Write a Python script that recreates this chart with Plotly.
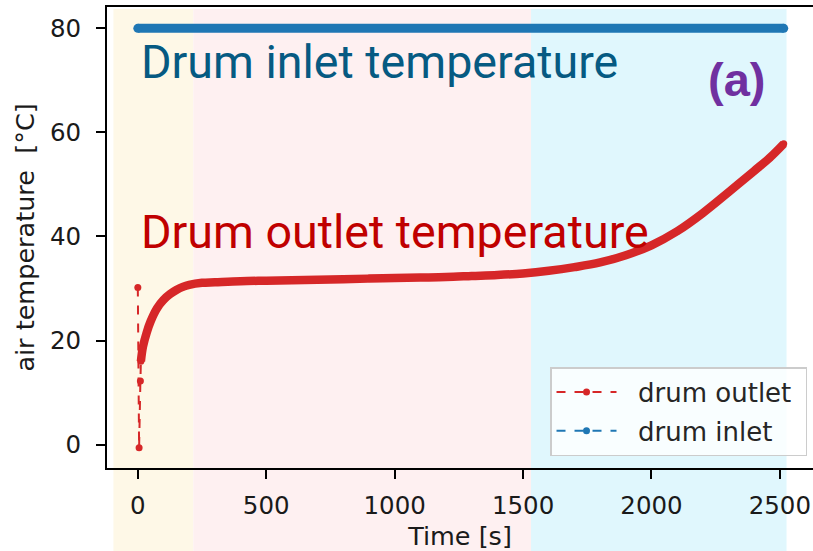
import plotly.graph_objects as go

# ---- data ----
outlet_t = [0, 5, 10, 12, 20, 35, 50, 75, 100, 125, 150, 175, 200, 250, 300, 400, 500,
            600, 700, 800, 900, 1000, 1100, 1200, 1300, 1400, 1500, 1600, 1700, 1800,
            1900, 2000, 2100, 2200, 2300, 2400, 2460, 2515]
outlet_T = [30.2, -0.6, 12.2, 16.0, 18.8, 21.6, 23.7, 26.2, 27.8, 28.9, 29.7, 30.3, 30.7,
            31.1, 31.2, 31.4, 31.5, 31.6, 31.7, 31.8, 31.9, 32.0, 32.1, 32.2, 32.4, 32.6,
            32.9, 33.4, 34.1, 35.0, 36.4, 38.3, 41.0, 44.5, 48.5, 52.6, 55.1, 57.8]
inlet_t = [0, 2515]
inlet_T = [80, 80]

x_ticks = [0, 500, 1000, 1500, 2000, 2500]
y_ticks = [0, 20, 40, 60, 80]

# background phase bands (time limits)
band_edges = [-95, 216, 1531, 2526]
band_colors = ["rgb(254,248,231)", "rgb(254,240,241)", "rgb(224,247,253)"]

XR = [-120, 2629]
YR = [-4.5, 84.1]

RED = "#d62728"
BLUE = "#1f77b4"
NB = "\u00a0"

fig = go.Figure()

fig.add_trace(go.Scatter(x=outlet_t, y=outlet_T, mode="lines+markers",
                         name=NB * 2 + "drum outlet" + NB,
                         line=dict(color=RED, width=2, dash="dash"),
                         marker=dict(color=RED, size=7), legendgroup="a"))
fig.add_trace(go.Scatter(x=outlet_t[3:], y=outlet_T[3:], mode="lines", showlegend=False,
                         line=dict(color=RED, width=8.5, shape="spline"), hoverinfo="skip"))
fig.add_trace(go.Scatter(x=inlet_t, y=inlet_T, mode="lines+markers", name="drum inlet",
                         line=dict(color=BLUE, width=9),
                         marker=dict(color=BLUE, size=9), showlegend=False))
fig.add_trace(go.Scatter(x=[None], y=[None], mode="lines+markers",
                         name=NB * 2 + "drum inlet",
                         line=dict(color=BLUE, width=2, dash="dash"),
                         marker=dict(color=BLUE, size=7), legendgroup="b"))

def px(x):
    return (x - XR[0]) / (XR[1] - XR[0])

shapes = []
for i, c in enumerate(band_colors):
    shapes.append(dict(type="rect", xref="paper", yref="paper",
                       x0=px(band_edges[i]), x1=px(band_edges[i + 1]),
                       y0=-0.25, y1=0.9955, fillcolor=c, line=dict(width=0),
                       layer="below"))

annotations = [
    dict(text="Drum inlet temperature", x=5, y=73.5, xref="x", yref="y",
         xanchor="left", yanchor="middle", showarrow=False,
         font=dict(family="Roboto", size=46.6, color="#065a82")),
    dict(text="Drum outlet temperature", x=5, y=40.85, xref="x", yref="y",
         xanchor="left", yanchor="middle", showarrow=False,
         font=dict(family="Roboto", size=46.6, color="#c00000")),
    dict(text="<b>(a)</b>", x=2333, y=70.15, xref="x", yref="y",
         xanchor="center", yanchor="middle", showarrow=False,
         font=dict(family="Liberation Sans", size=47, color="#7030a0")),
]

tickfont = dict(family="DejaVu Sans", size=24.5, color="#1a1a1a")
titlefont = dict(family="DejaVu Sans", size=25.5, color="#1a1a1a")
fig.update_layout(
    width=813, height=551,
    margin=dict(l=107, r=0, t=7, b=83),
    paper_bgcolor="white", plot_bgcolor="rgba(0,0,0,0)",
    shapes=shapes, annotations=annotations,
    showlegend=True,
    legend=dict(x=0.6275, y=0.219, xanchor="left", yanchor="top",
                bgcolor="rgba(255,255,255,0.8)", bordercolor="#cccccc", borderwidth=1.5,
                font=dict(family="DejaVu Sans", size=26, color="#262626"),
                traceorder="grouped", tracegroupgap=2, itemwidth=60),
    xaxis=dict(range=XR, tickvals=x_ticks, ticks="outside", ticklen=9, tickwidth=1.5,
               tickcolor="black", showline=True, linecolor="black", linewidth=1.8,
               mirror=True, showgrid=False, zeroline=False, tickfont=tickfont,
               ticklabelstandoff=6,
               title=dict(text="Time [s]", font=titlefont, standoff=8)),
    yaxis=dict(range=YR, tickvals=y_ticks, ticks="outside", ticklen=9, tickwidth=1.5,
               tickcolor="black", showline=True, linecolor="black", linewidth=1.8,
               showgrid=False, zeroline=False, tickfont=tickfont,
               ticklabelstandoff=10,
               title=dict(text="air temperature  [°C]", font=titlefont, standoff=8)),
)

fig.write_html("out.html")
